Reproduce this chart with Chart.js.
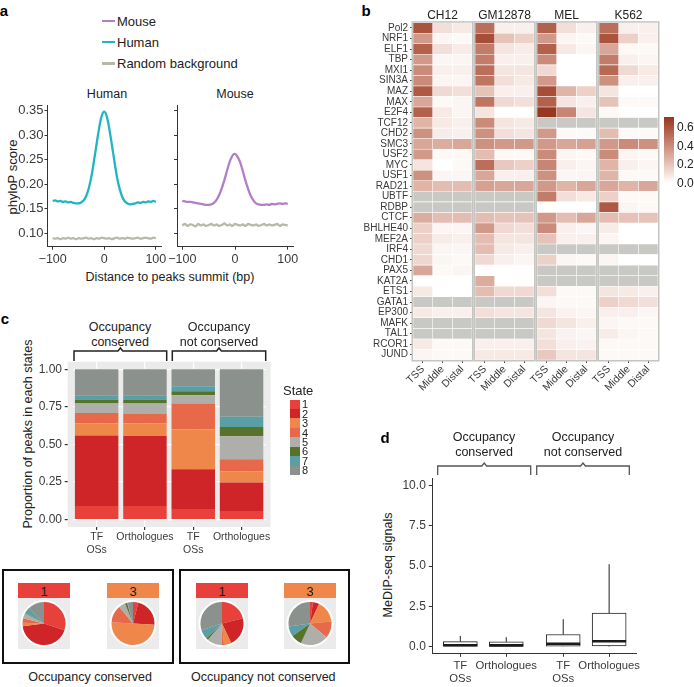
<!DOCTYPE html>
<html>
<head>
<meta charset="utf-8">
<title>TF occupancy conservation</title>
<script src="https://cdn.jsdelivr.net/npm/chart.js@4.4.1/dist/chart.umd.min.js"></script>
<style>
  body { margin: 0; background: #fff; }
  #fig { position: relative; width: 694px; height: 687px; overflow: hidden;
         font-family: "Liberation Sans", Arial, sans-serif; color: #222; }
  #fig canvas { position: absolute; }
  .t { position: absolute; white-space: nowrap; line-height: 1; transform: translate(-50%, -50%); }
  .l { position: absolute; white-space: nowrap; line-height: 1; transform: translate(0, -50%); }
  .box { position: absolute; box-sizing: border-box; }
</style>
</head>
<body>
<div id="fig">
  <svg width="694" height="687" style="position:absolute;left:0;top:0" fill="none">
    <path d="M74 361V351H118L120.4 348L122.8 351H166.7V361" stroke="#222" stroke-width="1.5"/>
    <path d="M172.3 361V351H216.6L219 348L221.4 351H265.7V361" stroke="#222" stroke-width="1.5"/>
    <path d="M437.7 475V466H481.8L484.2 463L486.6 466H530.7V475" stroke="#555" stroke-width="1.3"/>
    <path d="M536.7 475V466H580.6L583 463L585.4 466H629.3V475" stroke="#555" stroke-width="1.3"/>
  </svg>
</div>
<script>
// ---- panel a: phyloP profile around peak summits
const bp = [-100,-95,-90,-85,-80,-75,-70,-65,-60,-55,-50,-45,-40,-35,-30,-25,-20,-15,-10,-5,0,
            5,10,15,20,25,30,35,40,45,50,55,60,65,70,75,80,85,90,95,100];
const humanScore = [0.166,0.167,0.165,0.166,0.164,0.165,0.163,0.164,0.162,0.161,0.161,0.163,0.167,0.176,0.192,0.215,0.247,0.281,0.314,0.339,0.348,
                    0.338,0.312,0.279,0.245,0.213,0.190,0.174,0.165,0.161,0.159,0.160,0.161,0.163,0.162,0.164,0.163,0.165,0.164,0.166,0.164];
const humanRandom = [0.090,0.089,0.090,0.088,0.090,0.089,0.091,0.089,0.090,0.088,0.090,0.089,0.090,0.091,0.089,0.090,0.088,0.090,0.089,0.091,0.090,
                     0.089,0.090,0.088,0.090,0.091,0.089,0.090,0.089,0.091,0.090,0.089,0.090,0.091,0.089,0.090,0.091,0.090,0.089,0.091,0.090];
const mouseScore = [0.166,0.165,0.164,0.164,0.163,0.162,0.161,0.160,0.159,0.158,0.158,0.159,0.162,0.168,0.178,0.192,0.209,0.228,0.246,0.258,0.262,
                    0.256,0.244,0.226,0.207,0.190,0.176,0.167,0.161,0.159,0.158,0.158,0.159,0.158,0.160,0.159,0.160,0.161,0.160,0.161,0.160];
const mouseRandom = [0.116,0.119,0.115,0.118,0.117,0.114,0.119,0.116,0.118,0.115,0.117,0.119,0.116,0.118,0.115,0.117,0.120,0.116,0.118,0.115,0.119,
                     0.117,0.116,0.118,0.115,0.119,0.117,0.116,0.118,0.115,0.117,0.119,0.116,0.118,0.116,0.117,0.119,0.115,0.118,0.117,0.116];
const phyloTicks = [0.10, 0.15, 0.20, 0.25, 0.30, 0.35];
const bpTicks = [-100, -50, 0, 50, 100];

// ---- panel b: heatmap, rows = TFs, [TSS, Middle, Distal], null = not assayed
const tfs = ['Pol2','NRF1','ELF1','TBP','MXI1','SIN3A','MAZ','MAX','E2F4','TCF12','CHD2','SMC3','USF2','MYC','USF1','RAD21',
             'UBTF','RDBP','CTCF','BHLHE40','MEF2A','IRF4','CHD1','PAX5','KAT2A','ETS1','GATA1','EP300','MAFK','TAL1','RCOR1','JUND'];
const regions = ['TSS', 'Middle', 'Distal'];
const cellLines = ['CH12', 'GM12878', 'MEL', 'K562'];
const ch12 = [[0.60,0.10,0.07],[0.35,0.03,0.02],[0.55,0.10,0.06],[0.35,0.03,0.03],[0.40,0.05,0.05],[0.40,0.03,0.03],
  [0.58,0.12,0.10],[0.30,0.02,0.03],[0.55,0.07,0.03],[0.25,0.07,0.05],[0.38,0.06,0.05],[0.30,0.28,0.30],[0.35,0.02,0.02],
  [0.08,0.00,0.02],[0.38,0.03,0.03],[0.25,0.22,0.22],[null,null,null],[null,null,null],[0.28,0.22,0.22],[0.15,0.03,0.03],
  [0.15,0.06,0.05],[0.12,0.03,0.03],[0.13,0.03,0.02],[0.30,0.02,0.03],[0.00,0.00,0.00],[0.07,0.00,0.00],[null,null,null],
  [0.07,0.05,0.05],[null,null,null],[null,null,null],[0.07,0.02,0.02],[0.03,0.02,0.02]];
const gm12878 = [[0.50,0.05,0.05],[0.62,0.20,0.15],[0.45,0.08,0.06],[0.45,0.05,0.05],[0.50,0.08,0.08],[0.48,0.10,0.07],
  [0.20,0.05,0.05],[0.48,0.12,0.10],[0.08,0.00,0.00],[0.40,0.08,0.07],[0.38,0.10,0.08],[0.38,0.35,0.35],[0.22,0.02,0.02],
  [0.50,0.18,0.15],[0.30,0.05,0.05],[0.32,0.30,0.30],[null,null,null],[null,null,null],[0.22,0.20,0.20],[0.35,0.12,0.10],
  [0.22,0.08,0.08],[0.22,0.07,0.05],[0.12,0.05,0.03],[0.00,0.00,0.00],[0.28,0.00,0.00],[0.22,0.12,0.12],[null,null,null],
  [0.10,0.08,0.08],[null,null,null],[null,null,null],[0.05,0.05,0.05],[0.07,0.07,0.07]];
const mel = [[0.55,0.10,0.05],[0.35,0.03,0.02],[0.55,0.07,0.03],[0.40,0.00,0.00],[0.12,0.00,0.00],[0.35,0.00,0.00],
  [0.62,0.25,0.15],[0.55,0.08,0.05],[0.70,0.42,0.08],[null,null,null],[0.35,0.02,0.02],[0.35,0.30,0.32],[0.40,0.03,0.02],
  [0.42,0.05,0.03],[0.38,0.03,0.03],[0.35,0.25,0.30],[0.45,0.10,0.07],[0.00,0.00,0.00],[0.35,0.22,0.30],[0.40,0.05,0.03],
  [0.20,0.05,0.05],[null,null,null],[0.15,0.03,0.02],[null,null,null],[null,null,null],[0.10,0.02,0.02],[0.03,0.02,0.02],
  [0.08,0.04,0.03],[0.12,0.08,0.05],[0.08,0.04,0.03],[0.10,0.05,0.04],[0.18,0.08,0.08]];
const k562 = [[0.50,0.05,0.05],[0.60,0.15,0.05],[0.30,0.02,0.02],[0.45,0.05,0.03],[0.52,0.12,0.07],[0.38,0.05,0.05],
  [0.08,0.00,0.00],[0.20,0.02,0.02],[0.02,0.00,0.00],[null,null,null],[0.22,0.02,0.02],[0.35,0.40,0.38],[0.40,0.03,0.02],
  [0.25,0.05,0.03],[0.25,0.02,0.02],[0.30,0.25,0.30],[0.15,0.02,0.02],[0.58,0.03,0.02],[0.22,0.20,0.20],[0.06,0.00,0.00],
  [0.03,0.00,0.00],[null,null,null],[0.03,0.00,0.00],[null,null,null],[null,null,null],[0.08,0.07,0.05],[0.15,0.12,0.10],
  [0.05,0.05,0.03],[0.03,0.02,0.02],[0.06,0.03,0.02],[0.02,0.02,0.02],[0.02,0.02,0.02]];
const colorbarTicks = [0.0, 0.2, 0.4, 0.6];

// ---- panel c: chromatin state proportions (bottom to top = state 1..8)
const stackCats = [['TF', 'OSs'], 'Orthologues', ['TF', 'OSs'], 'Orthologues'];
const state1 = [0.090, 0.090, 0.069, 0.057];
const state2 = [0.469, 0.465, 0.266, 0.189];
const state3 = [0.080, 0.083, 0.264, 0.075];
const state4 = [0.070, 0.067, 0.173, 0.080];
const state5 = [0.063, 0.067, 0.055, 0.153];
const state6 = [0.026, 0.026, 0.027, 0.062];
const state7 = [0.029, 0.029, 0.033, 0.067];
const state8 = [0.173, 0.173, 0.113, 0.317];
const propTicks = [0, 0.25, 0.5, 0.75, 1];
// pies: states of orthologous regions for TF OSs in state 1 / state 3
const pieConserved1 = [0.30, 0.43, 0.025, 0.035, 0.04, 0.005, 0.04, 0.125];
const pieConserved3 = [0.04, 0.22, 0.50, 0.13, 0.05, 0.015, 0.005, 0.04];
const pieNotConserved1 = [0.21, 0.22, 0.055, 0.02, 0.11, 0.015, 0.07, 0.30];
const pieNotConserved3 = [0.022, 0.047, 0.167, 0.125, 0.208, 0.083, 0.075, 0.273];

// ---- panel d: MeDIP-seq boxplots
const medipGroups = [['TF', 'OSs'], 'Orthologues', ['TF', 'OSs'], 'Orthologues'];
const medipPos = [1, 2, 3.24, 4.24];
const medipMin = [0, 0, 0, 0];
const medipQ1 = [0.0, 0.0, 0.02, 0.04];
const medipMedian = [0.08, 0.07, 0.17, 0.33];
const medipQ3 = [0.31, 0.29, 0.75, 2.08];
const medipMax = [0.66, 0.58, 1.70, 5.12];
const medipTicks = [0, 2.5, 5, 7.5, 10];

// ---- styling
const stateColors = ['#e8403b', '#cf2528', '#f0874a', '#e8694a', '#aeaeab', '#56722b', '#5a9fa3', '#8b918d'];
const heatStops = [[0, [255,255,255]], [0.1, [243,223,217]], [0.2, [230,195,184]], [0.35, [209,153,137]],
                   [0.55, [179,97,75]], [0.7, [152,56,34]]];

Chart.defaults.font.family = "'Liberation Sans', Arial, sans-serif";
Chart.defaults.color = '#3a3a3a';
Chart.defaults.animation = false;
Chart.defaults.responsive = false;
Chart.defaults.devicePixelRatio = 1;
Chart.defaults.events = [];
Chart.defaults.plugins.legend.display = false;
Chart.defaults.plugins.tooltip.enabled = false;

const fig = document.getElementById('fig');

function cv(x, y, w, h) {
  const c = document.createElement('canvas');
  c.width = w; c.height = h;
  c.style.left = x + 'px'; c.style.top = y + 'px';
  c.style.width = w + 'px'; c.style.height = h + 'px';
  fig.appendChild(c);
  return c;
}

function txt(s, x, y, size, css, cls) {
  const d = document.createElement('div');
  d.className = cls || 't';
  d.textContent = s;
  d.style.left = x + 'px'; d.style.top = y + 'px'; d.style.fontSize = size + 'px';
  if (css) Object.assign(d.style, css);
  fig.appendChild(d);
  return d;
}

function rect(x, y, w, h, css) {
  const d = document.createElement('div');
  d.className = 'box';
  Object.assign(d.style, { left: x + 'px', top: y + 'px', width: w + 'px', height: h + 'px' }, css);
  fig.appendChild(d);
}

const ticksAt = vals => s => { s.ticks = vals.map(value => ({ value })); };

function heatColor(v) {
  if (v === null) return '#c8c8c4';
  for (let k = 1; k < heatStops.length; k++) {
    const [v1, c1] = heatStops[k];
    if (v <= v1 || k === heatStops.length - 1) {
      const [v0, c0] = heatStops[k - 1];
      const f = Math.min(1, (v - v0) / (v1 - v0));
      return 'rgb(' + c0.map((c, m) => Math.round(c + f * (c1[m] - c))).join(',') + ')';
    }
  }
}

// ---------------- panel a
txt('a', 4, 10, 15, { fontWeight: 'bold', color: '#000' });
[['Mouse', '#b17fc6', 20.7], ['Human', '#20b5c1', 41.7], ['Random background', '#b9b9ab', 63.3]].forEach(([name, col, y]) => {
  rect(102, y - 1.2, 13, 2.5, { background: col });
  txt(name, 117, y, 13, null, 'l');
});
txt('Human', 107, 93.5, 12.5);
txt('Mouse', 235, 93.5, 12.5);
txt('Distance to peaks summit (bp)', 170, 277, 12.5);
txt('phyloP score', 12, 177, 13, { transform: 'translate(-50%,-50%) rotate(-90deg)' });

function profileChart(left, w, padL, padR, yW, score, random, color, showY) {
  new Chart(cv(left, 90, w, 180), {
    type: 'line',
    data: {
      datasets: [
        { data: bp.map((x, i) => ({ x, y: score[i] })), borderColor: color, borderWidth: 2.3, pointRadius: 0, tension: 0.3 },
        { data: bp.map((x, i) => ({ x, y: random[i] })), borderColor: '#b9b9ab', borderWidth: 2.3, pointRadius: 0, tension: 0.2 }
      ]
    },
    options: {
      layout: { padding: { left: padL, right: padR, top: 15, bottom: 0 } },
      scales: {
        x: {
          type: 'linear', min: -110, max: 110, afterBuildTicks: ticksAt(bpTicks), afterFit: s => { s.height = 23.3; },
          ticks: { callback: v => v < 0 ? '\u2212' + (-v) : String(v), font: { size: 12.5 }, padding: 2, maxRotation: 0 },
          grid: { drawOnChartArea: false, tickLength: 3, color: '#333' }, border: { color: '#333' }
        },
        y: {
          min: 0.0727, max: 0.3616, afterBuildTicks: ticksAt(phyloTicks), afterFit: s => { s.width = yW; },
          ticks: { display: showY, callback: v => v.toFixed(2), font: { size: 13 }, padding: 1 },
          grid: { drawOnChartArea: false, tickLength: 3, color: '#333' }, border: { color: '#333' }
        }
      }
    }
  });
}
profileChart(0, 175, 0, 14, 47.5, humanScore, humanRandom, '#20b5c1', true);
profileChart(165, 143, 9, 15, 3, mouseScore, mouseRandom, '#b17fc6', false);

// ---------------- panel b
txt('b', 366, 10, 15, { fontWeight: 'bold', color: '#000' });
const panelBorder = {
  id: 'panelBorder',
  afterDraw(c) {
    const a = c.chartArea, g = c.ctx;
    g.save(); g.strokeStyle = '#c4c4c0'; g.lineWidth = 1.5;
    g.strokeRect(a.left - 0.75, a.top - 0.75, a.width + 1.5, a.height + 1.5);
    g.restore();
  }
};
const panelLefts = [413, 475, 537, 599];
function heatPanel(vals, panelLeft, withRows) {
  const padL = withRows ? 0 : 20;
  const yW = withRows ? 113 : 0;
  new Chart(cv(panelLeft - padL - yW, 10, padL + yW + 65, 390), {
    type: 'bar',
    data: {
      labels: tfs,
      datasets: regions.map((r, j) => ({
        label: r, data: tfs.map(() => 1), backgroundColor: vals.map(v => heatColor(v[j])),
        borderColor: 'rgba(255,255,255,0.55)', borderWidth: 0.6, borderSkipped: false,
        barPercentage: 1, categoryPercentage: 1
      }))
    },
    options: {
      indexAxis: 'y',
      layout: { padding: { left: padL, right: 6, top: 12.7, bottom: 0 } },
      scales: {
        x: {
          type: 'linear', stacked: true, min: 0, max: 3, afterBuildTicks: ticksAt([0.5, 1.5, 2.5]),
          afterFit: s => { s.height = 40; },
          ticks: { callback: (v, i) => regions[i], minRotation: 45, maxRotation: 45, autoSkip: false, font: { size: 10.5 }, padding: 0 },
          grid: { drawOnChartArea: false, tickLength: 3, color: '#444' }, border: { display: false }
        },
        y: {
          stacked: true, display: withRows, afterFit: s => { s.width = yW; },
          ticks: { autoSkip: false, font: { size: 10 }, padding: 2 },
          grid: { offset: false, drawOnChartArea: false, tickLength: 3, color: '#444' }, border: { display: false }
        }
      }
    },
    plugins: [panelBorder]
  });
}
[ch12, gm12878, mel, k562].forEach((vals, i) => {
  heatPanel(vals, panelLefts[i], i === 0);
  txt(cellLines[i], panelLefts[i] + 29.5, 15, 12);
});
rect(664, 117, 10, 69, {
  background: 'linear-gradient(to top,' + heatStops.map(([v, c]) =>
    'rgb(' + c.join(',') + ') ' + ((3.5 + 92.5 * v) / 69 * 100).toFixed(1) + '%').join(',') + ')'
});
colorbarTicks.forEach(v => txt(v.toFixed(1), 677, 182.5 - 92.5 * v, 12, null, 'l'));

// ---------------- panel c
txt('c', 5, 318, 15, { fontWeight: 'bold', color: '#000' });
txt('Occupancy', 120, 326.7, 12.5); txt('conserved', 120, 341.7, 12.5);
txt('Occupancy', 219, 326.7, 12.5); txt('not conserved', 219, 341.7, 12.5);
txt('Proportion of peaks in each states', 28, 433.5, 12.5, { transform: 'translate(-50%,-50%) rotate(-90deg)' });

const grayPanel = {
  id: 'grayPanel',
  beforeDraw(c) {
    const a = c.chartArea, g = c.ctx, ext = a.width / 40;
    g.save(); g.fillStyle = '#ebebeb';
    g.fillRect(a.left - ext, a.top, a.width + 2 * ext, a.height);
    g.restore();
  }
};
const stateShares = [state1, state2, state3, state4, state5, state6, state7, state8];
new Chart(cv(0, 345, 285, 210), {
  type: 'bar',
  data: {
    labels: stackCats,
    datasets: stateShares.map((d, k) => ({
      label: String(k + 1), data: d, backgroundColor: stateColors[k], borderWidth: 0,
      barPercentage: 0.9, categoryPercentage: 1
    }))
  },
  options: {
    layout: { padding: { left: 0, right: 19.3, top: 16.7, bottom: 0 } },
    scales: {
      x: {
        stacked: true, afterFit: s => { s.height = 28; },
        ticks: { font: { size: 10.5 }, padding: 1, maxRotation: 0, autoSkip: false },
        grid: { offset: false, color: '#fff', lineWidth: 1.2, tickColor: '#333', tickLength: 3 }, border: { display: false }
      },
      y: {
        stacked: true, min: -0.05, max: 1.05, afterBuildTicks: ticksAt(propTicks), afterFit: s => { s.width = 72.5; },
        ticks: { callback: v => v.toFixed(2), font: { size: 12 }, padding: 2.7 },
        grid: { color: '#fff', lineWidth: 1.2, tickColor: '#333', tickLength: 7.8, tickBorderDash: [3, 20] },
        border: { display: false }
      }
    }
  },
  plugins: [grayPanel]
});

txt('State', 283, 390, 13, null, 'l');
stateColors.forEach((col, k) => {
  rect(290, 399.5 + k * 9.45, 10, 9.45, { background: col });
  txt(String(k + 1), 302, 404.2 + k * 9.45, 11, null, 'l');
});

// pies
rect(1.5, 569, 172, 95, { border: '2.5px solid #111' });
rect(179, 569, 171, 95, { border: '2.5px solid #111' });
const pieFrame = {
  id: 'pieFrame',
  beforeDraw(c) {
    const g = c.ctx; g.save(); g.fillStyle = '#ebebeb'; g.fillRect(0, 0, c.width, c.height); g.restore();
  },
  afterDatasetsDraw(c) {
    const arc = c.getDatasetMeta(0).data[0], g = c.ctx;
    g.save(); g.strokeStyle = '#fff'; g.lineWidth = 1.6;
    g.beginPath(); g.arc(arc.x, arc.y, arc.outerRadius + 1.2, 0, Math.PI * 2); g.stroke();
    g.restore();
  }
};
[[pieConserved1, 18, 0], [pieConserved3, 107, 2], [pieNotConserved1, 196, 0], [pieNotConserved3, 284, 2]].forEach(([vals, x, s]) => {
  rect(x, 583, 52, 15, { background: stateColors[s] });
  txt(String(s + 1), x + 26, 591, 13, { color: '#1a1a1a' });
  new Chart(cv(x, 598, 52, 51), {
    type: 'pie',
    data: { labels: stateColors.map((c, k) => String(k + 1)), datasets: [{ data: vals, backgroundColor: stateColors, borderWidth: 0 }] },
    options: { layout: { padding: 4 } },
    plugins: [pieFrame]
  });
});
txt('Occupancy conserved', 90, 676.7, 12.5);
txt('Occupancy not conserved', 263.3, 676.7, 12.5);

// ---------------- panel d
txt('d', 385, 437, 15, { fontWeight: 'bold', color: '#000' });
txt('Occupancy', 484, 436.7, 12.5); txt('conserved', 484, 451.7, 12.5);
txt('Occupancy', 583, 436.7, 12.5); txt('not conserved', 583, 451.7, 12.5);
txt('MeDIP-seq signals', 388.3, 565, 12.5, { transform: 'translate(-50%,-50%) rotate(-90deg)' });

const boxHalf = 0.37;
const whiskerSegs = [], medianSegs = [];
medipPos.forEach((x, i) => {
  whiskerSegs.push({ x, y: medipQ3[i] }, { x, y: medipMax[i] }, { x, y: null },
                   { x, y: medipMin[i] }, { x, y: medipQ1[i] }, { x, y: null });
  medianSegs.push({ x: x - boxHalf, y: medipMedian[i] }, { x: x + boxHalf, y: medipMedian[i] }, { x, y: null });
});
new Chart(cv(380, 460, 270, 227), {
  type: 'bar',
  data: {
    datasets: [
      { type: 'line', data: medianSegs, borderColor: '#1a1a1a', borderWidth: 2.6, pointRadius: 0, order: 0 },
      { type: 'line', data: whiskerSegs, borderColor: '#222', borderWidth: 1, pointRadius: 0, order: 1 },
      { type: 'bar', data: medipPos.map((x, i) => ({ x, y: [medipQ1[i], medipQ3[i]] })),
        backgroundColor: '#fff', borderColor: '#222', borderWidth: 1, borderSkipped: false, barThickness: 34, order: 2 }
    ]
  },
  options: {
    layout: { padding: { left: 0, right: 13.3, top: 18, bottom: 0 } },
    scales: {
      x: {
        type: 'linear', offset: false, min: 0.39, max: 4.84, afterBuildTicks: ticksAt(medipPos), afterFit: s => { s.height = 33.7; },
        ticks: { callback: (v, i) => medipGroups[i], font: { size: 11.3 }, padding: 2, maxRotation: 0, autoSkip: false },
        grid: { offset: false, drawOnChartArea: false, tickLength: 3.5, color: '#333' }, border: { color: '#333' }
      },
      y: {
        min: -0.42, max: 10.48, afterBuildTicks: ticksAt(medipTicks), afterFit: s => { s.width = 52.3; },
        ticks: { callback: v => v.toFixed(1), font: { size: 12 }, padding: 3 },
        grid: { drawOnChartArea: false, tickLength: 3.5, color: '#333' }, border: { color: '#333' }
      }
    }
  }
});
</script>
</body>
</html>
